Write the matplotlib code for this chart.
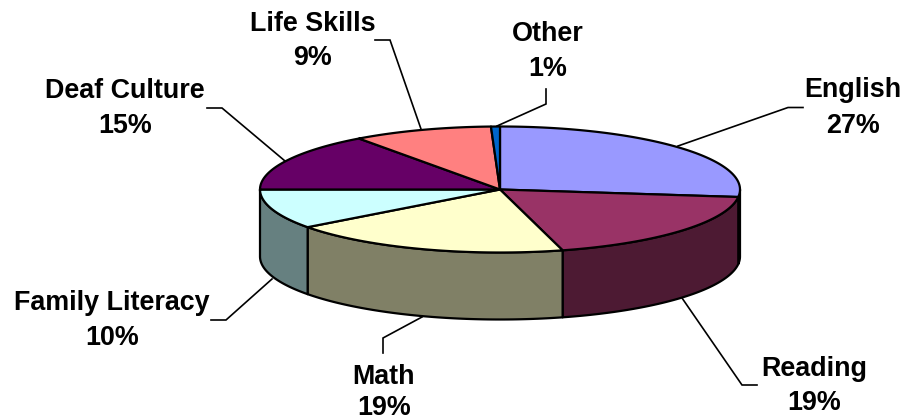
import numpy as np
import matplotlib
matplotlib.use("Agg")
import matplotlib.pyplot as plt
from matplotlib.patches import Polygon

categories = ["English", "Reading", "Math", "Family Literacy", "Deaf Culture", "Life Skills", "Other"]
# unrounded shares, the labels round them
percents = [26.9, 18.9, 19.0, 10.2, 15.0, 9.4, 0.6]

top_colors = ["#9999ff", "#993366", "#ffffcc", "#ccffff", "#660066", "#ff8080", "#0066cc"]
side_colors = ["#4d4d80", "#4d1a33", "#808066", "#668080", "#330033", "#804040", "#003366"]

# pie geometry, in image pixels
cx, cy = 500, 189.5
rx, ry = 240, 63
depth = 67

# label centre x, name baseline y, percent baseline y
label_pos = [(853, 97, 133), (814, 376, 410), (384, 384, 415), (112, 310, 345),
             (125, 98, 133), (313, 31, 65), (548, 41, 76)]
# leader lines from label to pie edge
leaders = [
    [(803, 107.5), (788, 107.5), (678, 146)],
    [(757, 385), (742, 385), (682, 298)],
    [(383, 353), (383, 338), (422, 317)],
    [(211, 320), (226, 320), (272, 279)],
    [(207, 108), (222, 108), (285, 161)],
    [(375, 40), (390, 40), (421, 129)],
    [(546, 89), (546, 104), (497, 126)],
]


def rim(t0, t1, drop=0):
    # points along the ellipse between two angles (degrees)
    n = max(int(abs(t1 - t0)), 1) + 1
    t = np.radians(np.linspace(t0, t1, n))
    return np.column_stack([cx + rx * np.cos(t), cy - ry * np.sin(t) + drop])


fig = plt.figure(figsize=(9.12, 4.2), dpi=100)
ax = fig.add_axes([0, 0, 1, 1])
ax.set_xlim(0, 912)
ax.set_ylim(420, 0)
ax.axis("off")

ends = np.cumsum(percents) / sum(percents) * 360
starts = ends - np.array(percents) / sum(percents) * 360
angle_start = 90 - starts
angle_end = 90 - ends

# walls first, only the front half of the rim shows
for a, b, col in zip(angle_start, angle_end, side_colors):
    a2, b2 = min(a, 0), max(b, -180)
    if a2 > b2:
        upper = rim(a2, b2)
        lower = rim(b2, a2, depth)
        ax.add_patch(Polygon(np.vstack([upper, lower]), closed=True, facecolor=col,
                             edgecolor="black", linewidth=1.6, joinstyle="round"))

for a, b, col in zip(angle_start, angle_end, top_colors):
    pts = np.vstack([[(cx, cy)], rim(a, b)])
    ax.add_patch(Polygon(pts, closed=True, facecolor=col, edgecolor="black",
                         linewidth=1.6, joinstyle="round"))

for line in leaders:
    xs, ys = zip(*line)
    ax.plot(xs, ys, color="black", linewidth=1.2, solid_joinstyle="miter")

for name, pct, (lx, y1, y2) in zip(categories, percents, label_pos):
    ax.text(lx, y1, name, ha="center", va="baseline", fontsize=19.4, fontweight="bold",
            family="Liberation Sans", color="black")
    ax.text(lx, y2, f"{pct:.0f}%", ha="center", va="baseline", fontsize=19.4, fontweight="bold",
            family="Liberation Sans", color="black")

fig.savefig("out.png", dpi=100)
